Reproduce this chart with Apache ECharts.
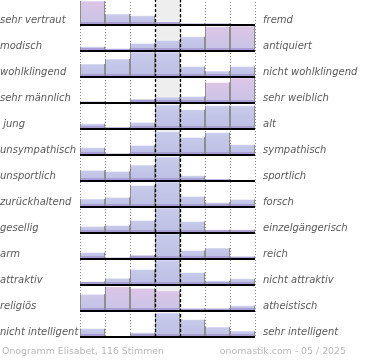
<!DOCTYPE html>
<html>
<head>
<meta charset="utf-8">
<script src="https://cdn.jsdelivr.net/npm/echarts@6/dist/echarts.min.js"></script>
<style>html,body{margin:0;padding:0;background:#fff}#c{width:370px;height:360px}</style>
</head>
<body>
<div id="c"></div>
<script>
// scale steps (7 columns, middle = neutral)
const columns = ['-3', '-2', '-1', '0', '+1', '+2', '+3'];
const leftLabels = ['sehr vertraut', 'modisch', 'wohlklingend', 'sehr männlich', ' jung', 'unsympathisch',
  'unsportlich', 'zurückhaltend', 'gesellig', 'arm', 'attraktiv', 'religiös', 'nicht intelligent'];
const rightLabels = ['fremd', 'antiquiert', 'nicht wohlklingend', 'sehr weiblich', 'alt', 'sympathisch',
  'sportlich', 'forsch', 'einzelgängerisch', 'reich', 'nicht attraktiv', 'atheistisch', 'sehr intelligent'];
// vote share per column (bars are capped at the row height)
const shares = [
  [24, 11, 9.3, 3.3, 1.7, 1.7, 0],
  [4.3, 2.3, 7.7, 10.7, 14.3, 24.3, 25],
  [13, 18, 25, 25, 10.6, 6, 10.6],
  [1.6, 0, 4, 6, 6.6, 20.6, 25],
  [5.3, 2, 6.6, 24, 19.3, 23.3, 23.3],
  [7.3, 1.7, 9.7, 23.3, 17.7, 22.3, 10.3],
  [10.7, 9.7, 16, 24, 5.3, 2, 0],
  [8, 9.6, 21.6, 25, 10.6, 4.6, 7.6],
  [6.6, 7.6, 12.6, 25, 11.6, 3.3, 3.3],
  [6.6, 1.6, 4, 25, 8.6, 11, 2.6],
  [3.6, 6.7, 15.5, 25, 12.5, 4.2, 6.3],
  [16.7, 24.3, 22.7, 20.3, 2.7, 2.7, 5.3],
  [8.4, 0, 4.4, 24, 17.4, 10, 6]
];
// overflow tint per bar (0 = normal, 1 = strong)
const tint = [
  [1, 0.2, 0, 0, 0, 0, 0],
  [0, 0, 0, 0, 0, 1, 1],
  [0, 0, 0, 0, 0, 0, 0],
  [0, 0, 0, 0, 0, 1, 1],
  [0, 0, 0, 0, 0, 0, 0],
  [0, 0, 0, 0, 0, 0, 0],
  [0, 0, 0, 0, 0, 0, 0],
  [0, 0, 0, 0, 0, 0, 0],
  [0, 0, 0, 0, 0, 0, 0],
  [0, 0, 0, 0, 0, 0, 0],
  [0, 0, 0, 0, 0, 0, 0],
  [0.4, 1, 1, 1, 0, 0, 0],
  [0, 0, 0, 0, 0, 0, 0]
];
const footerLeft = 'Onogramm Elisabet, 116 Stimmen';
const footerRight = 'onomastik.com - 05 / 2025';

const CAP = 25;
const neutral = Math.floor(columns.length / 2);

function hex(c) { return [parseInt(c.slice(1,3),16), parseInt(c.slice(3,5),16), parseInt(c.slice(5,7),16)]; }
function mix(a, b, t) {
  const A = hex(a), B = hex(b);
  return 'rgb(' + A.map((v, i) => Math.round(v + (B[i] - v) * t)).join(',') + ')';
}
const blueTop = '#c8cbeb', blueBot = '#bcbee4', pinkTop = '#ddc5e6', pinkBot = '#c7c4e7';

const barData = [];
shares.forEach((row, r) => row.forEach((v, c) => barData.push([c, r, v, tint[r][c]])));

function renderBar(params, api) {
  const col = api.value(0), row = api.value(1), v = api.value(2), t = api.value(3);
  const p0 = api.coord([col, row]);
  const p1 = api.coord([col + 1, row]);
  const band = api.size([1, 1])[1];
  const x0 = Math.round(p0[0]), x1 = Math.round(p1[0]);
  const base = Math.round(p0[1] + band / 2);
  const h = Math.min(v, CAP) / CAP * (band - 1);
  const children = [];
  if (h > 0) {
    children.push({
      type: 'rect', z2: 1,
      shape: { x: x0, y: base - h, width: x1 - x0, height: h },
      style: { fill: new echarts.graphic.LinearGradient(0, 0, 0, 1, [
        { offset: 0, color: mix(blueTop, pinkTop, t) },
        { offset: 1, color: mix(blueBot, pinkBot, t) }
      ]) }
    });
    children.push({
      type: 'rect', z2: 2,
      shape: { x: x0, y: base - Math.min(3, h), width: x1 - x0, height: Math.min(3, h) },
      style: { fill: '#a99fd3' }
    });
    children.push({
      type: 'line', z2: 3,
      shape: { x1: x0 + 0.5, y1: base - h, x2: x1 - 0.5, y2: base - h },
      style: { stroke: 'rgba(255,255,255,0.55)', lineWidth: 1 }
    });
    children.push({
      type: 'line', z2: 4,
      shape: { x1: x0 + 0.5, y1: base - h, x2: x0 + 0.5, y2: base },
      style: { stroke: '#8e8e8e', lineWidth: 1 }
    });
    children.push({
      type: 'line', z2: 4,
      shape: { x1: x1 - 0.5, y1: base - h, x2: x1 - 0.5, y2: base },
      style: { stroke: '#8e8e8e', lineWidth: 1 }
    });
  }
  children.push({
    type: 'line', z2: 10,
    shape: { x1: x0, y1: base, x2: x1, y2: base },
    style: { stroke: '#000', lineWidth: 2 }
  });
  return { type: 'group', children };
}

function renderBackdrop(params, api) {
  const cs = params.coordSys;
  const xa = api.coord([api.value(0), 0])[0];
  const xb = api.coord([api.value(0) + 1, 0])[0];
  return { type: 'rect', shape: { x: xa, y: cs.y, width: xb - xa, height: cs.height }, style: { fill: '#eeeeee' } };
}

function renderDivider(params, api) {
  const cs = params.coordSys;
  const x = Math.round(api.coord([api.value(0), 0])[0]) + 0.5;
  return { type: 'line', shape: { x1: x, y1: cs.y, x2: x, y2: cs.y + cs.height },
    style: { stroke: '#000', lineWidth: 1.3, lineDash: [3, 2] } };
}

const labelStyle = {
  fontFamily: 'DejaVu Sans', fontStyle: 'italic', fontSize: 10, color: '#5a5a5a',
  interval: 0, align: 'left', verticalAlign: 'top', lineHeight: 16
};

const chart = echarts.init(document.getElementById('c'), null, { renderer: 'canvas' });
chart.setOption({
  animation: false,
  backgroundColor: '#fff',
  title: [
    { text: footerLeft, left: 2, top: 347, padding: 0,
      textStyle: { fontFamily: 'DejaVu Sans', fontSize: 9.4, fontWeight: 'normal', color: '#b8b8b8' } },
    { text: footerRight, right: 24, top: 347, padding: 0,
      textStyle: { fontFamily: 'DejaVu Sans', fontSize: 9.4, fontWeight: 'normal', color: '#b8b8b8' } }
  ],
  grid: { left: 80, right: 115, top: -1, height: 338, containLabel: false, outerBoundsMode: 'none' },
  xAxis: {
    type: 'value', min: 0, max: columns.length, interval: 1,
    axisLine: { show: false }, axisTick: { show: false }, axisLabel: { show: false },
    splitLine: { show: true, lineStyle: { color: '#8a8a8a', type: [1, 2], width: 1 } }
  },
  yAxis: [
    { type: 'category', data: leftLabels, inverse: true, position: 'left',
      axisLine: { show: false }, axisTick: { show: false }, splitLine: { show: false },
      axisLabel: Object.assign({ margin: 80 }, labelStyle) },
    { type: 'category', data: rightLabels, inverse: true, position: 'right',
      axisLine: { show: false }, axisTick: { show: false }, splitLine: { show: false },
      axisLabel: Object.assign({ margin: 8 }, labelStyle) }
  ],
  series: [
    { type: 'custom', z: 1, silent: true, renderItem: renderBackdrop, data: [[neutral]], encode: { x: 0 } },
    { type: 'custom', z: 2, silent: true, renderItem: renderBar, data: barData, encode: { x: 0, y: 1 }, clip: false },
    { type: 'custom', z: 3, silent: true, renderItem: renderDivider, data: [[neutral], [neutral + 1]], encode: { x: 0 } }
  ]
});
</script>
</body>
</html>
